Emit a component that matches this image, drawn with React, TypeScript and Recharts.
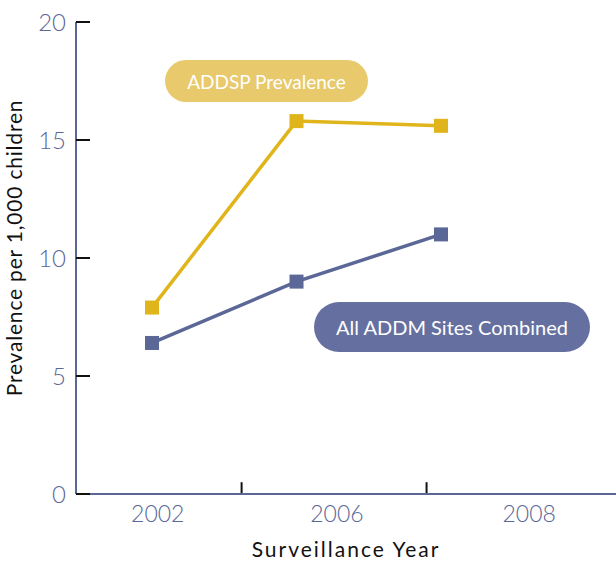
import React from 'react';
import { LineChart, Line, XAxis, YAxis, ReferenceLine } from 'recharts';

// ---- data ----
const years = ['2002', '2006', '2008'];
const addspPrevalence = [7.9, 15.8, 15.6];
const addmCombined = [6.4, 9.0, 11.0];
const yTicks = [0, 5, 10, 15, 20];
// x positions (in axis units) where year labels sit and where small tick marks are drawn
const yearLabelPos = [0.04, 1.28, 2.61];
const tickMarkPos = [0.62, 1.9];
const xDomain: [number, number] = [-0.526, 3.211];

const data = years.map((y, i) => ({
  x: i,
  year: y,
  addsp: addspPrevalence[i],
  addm: addmCombined[i],
}));

const GOLD = '#E0B51C';
const BLUE = '#5B6797';
const TEXT_BLUE = '#5B6797';
const FONT = 'Lato, "Open Sans", sans-serif';

const SquareDot = (color: string) => (props: any) => {
  const { cx, cy } = props;
  if (cx == null || cy == null) return null;
  return <rect x={cx - 7} y={cy - 7} width={14} height={14} fill={color} />;
};

const YTick = (props: any) => {
  const { x, y, payload } = props;
  return (
    <g>
      <line x1={x + 10} y1={y} x2={x + 24} y2={y} stroke="#111" strokeWidth={2} />
      <text x={x} y={y} dy={8.5} textAnchor="end" fill={TEXT_BLUE} fontSize={24} fontWeight={300} fontFamily={FONT}>
        {payload.value}
      </text>
    </g>
  );
};

const XTick = (props: any) => {
  const { x, y, payload } = props;
  const idx = yearLabelPos.indexOf(payload.value);
  return (
    <text x={x} y={y + 16} textAnchor="middle" fill={TEXT_BLUE} fontSize={23} fontWeight={300} fontFamily={FONT}>
      {years[idx] ?? ''}
    </text>
  );
};

const YLabel = (props: any) => {
  const vb = props.viewBox || {};
  const cx = 22;
  const cy = vb.y + vb.height / 2 - 10;
  return (
    <text
      x={cx}
      y={cy}
      textAnchor="middle"
      fill="#111"
      fontSize={21}
      fontWeight={400}
      letterSpacing={0.8}
      fontFamily={FONT}
      transform={`rotate(-90 ${cx} ${cy})`}
    >
      Prevalence per 1,000 children
    </text>
  );
};

const XLabel = (props: any) => {
  const vb = props.viewBox || {};
  const cx = vb.x + vb.width / 2;
  return (
    <text x={cx} y={557} textAnchor="middle" fill="#111" fontSize={21} fontWeight={400} letterSpacing={2} fontFamily={FONT}>
      Surveillance Year
    </text>
  );
};

const pillBase: React.CSSProperties = {
  position: 'absolute',
  display: 'flex',
  alignItems: 'center',
  justifyContent: 'center',
  color: '#fff',
  fontFamily: FONT,
  fontWeight: 400,
  whiteSpace: 'nowrap',
};

export default function App() {
  return (
    <div style={{ position: 'absolute', left: 0, top: 0, width: 616, height: 561, background: '#fff', overflow: 'hidden' }}>
      <LineChart width={616} height={561} data={data} margin={{ top: 22, right: 0, bottom: 0, left: 0 }}>
        <XAxis
          dataKey="x"
          type="number"
          domain={xDomain}
          ticks={yearLabelPos}
          allowDataOverflow
          tick={<XTick />}
          tickLine={false}
          tickSize={0}
          tickMargin={12}
          height={67}
          axisLine={{ stroke: BLUE, strokeWidth: 2 }}
          label={<XLabel />}
        />
        <YAxis
          type="number"
          domain={[0, 20]}
          ticks={yTicks}
          width={76}
          tick={<YTick />}
          tickLine={false}
          tickSize={0}
          tickMargin={10}
          axisLine={{ stroke: BLUE, strokeWidth: 2 }}
          label={<YLabel />}
        />
        {tickMarkPos.map((p) => (
          <ReferenceLine
            key={p}
            segment={[{ x: p, y: 0 }, { x: p, y: 0.5 }]}
            stroke="#111"
            strokeWidth={2}
            ifOverflow="visible"
          />
        ))}
        <Line
          dataKey="addsp"
          stroke={GOLD}
          strokeWidth={3.5}
          dot={SquareDot(GOLD)}
          activeDot={false}
          isAnimationActive={false}
        />
        <Line
          dataKey="addm"
          stroke={BLUE}
          strokeWidth={3.5}
          dot={SquareDot(BLUE)}
          activeDot={false}
          isAnimationActive={false}
        />
      </LineChart>
      <div
        style={{
          ...pillBase,
          left: 165,
          top: 60,
          width: 203,
          height: 42,
          borderRadius: 21,
          background: '#E8C96B',
          fontSize: 19,
        }}
      >
        ADDSP Prevalence
      </div>
      <div
        style={{
          ...pillBase,
          left: 314,
          top: 302,
          width: 276,
          height: 50,
          borderRadius: 25,
          background: '#6670A0',
          fontSize: 20,
        }}
      >
        All ADDM Sites Combined
      </div>
    </div>
  );
}
